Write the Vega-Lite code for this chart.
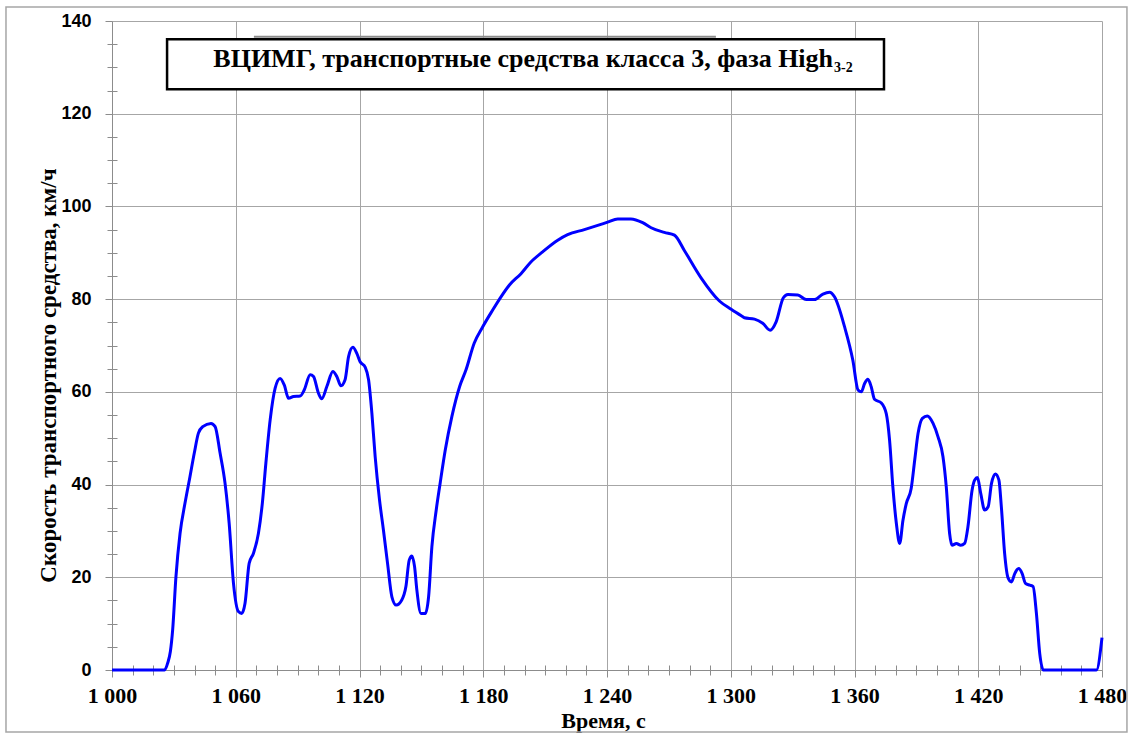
{
  "$schema": "https://vega.github.io/schema/vega-lite/v6.json",
  "width": 990,
  "height": 649,
  "autosize": {"type": "none"},
  "padding": {"left": 112, "top": 21, "right": 30, "bottom": 65},
  "background": "white",
  "config": {"view": {"stroke": null}},
  "data": {"values": [
    {"t":1000,"v":0},{"t":1025.5,"v":0},{"t":1027,"v":1.5},{"t":1028.3,"v":4},{"t":1029.4,"v":8.6},{"t":1031,"v":20.1},{"t":1033,"v":29.5},{"t":1035.4,"v":36},{"t":1037.8,"v":41.7},{"t":1039.9,"v":46.8},{"t":1041.9,"v":51.1},{"t":1044,"v":52.5},{"t":1048,"v":53.2},{"t":1050,"v":52.5},{"t":1052.4,"v":46.8},{"t":1054.8,"v":40.3},{"t":1056.8,"v":31.7},{"t":1058.9,"v":18.7},{"t":1061.3,"v":12.6},{"t":1062.9,"v":12.2},{"t":1064.5,"v":14.4},{"t":1066.5,"v":23},{"t":1068.6,"v":25.2},{"t":1071,"v":29.5},{"t":1072.9,"v":36},{"t":1074.6,"v":44.6},{"t":1076.7,"v":54},{"t":1079.1,"v":60.8},{"t":1081.5,"v":62.9},{"t":1083.5,"v":61.5},{"t":1085.6,"v":58.6},{"t":1088,"v":59},{"t":1091.2,"v":59.1},{"t":1093.2,"v":60.4},{"t":1096.1,"v":63.7},{"t":1097.7,"v":63.3},{"t":1100.1,"v":59.7},{"t":1101.7,"v":58.5},{"t":1104.2,"v":61.2},{"t":1107.1,"v":64.4},{"t":1109,"v":63.3},{"t":1111,"v":61.3},{"t":1113,"v":62.6},{"t":1114.7,"v":67.6},{"t":1116.8,"v":69.6},{"t":1118.7,"v":68.3},{"t":1120.3,"v":66.5},{"t":1122.8,"v":65.3},{"t":1124.4,"v":62.6},{"t":1126,"v":55.4},{"t":1127.6,"v":46},{"t":1129.7,"v":36.7},{"t":1131.6,"v":30.2},{"t":1133.6,"v":23},{"t":1135.7,"v":15.8},{"t":1137.8,"v":14},{"t":1140.5,"v":15.1},{"t":1142.5,"v":18},{"t":1144.1,"v":23.7},{"t":1145.4,"v":24.6},{"t":1146.7,"v":22.3},{"t":1147.8,"v":17.3},{"t":1149.8,"v":12.2},{"t":1151.9,"v":12.2},{"t":1153.5,"v":15.8},{"t":1155.1,"v":26.6},{"t":1157.2,"v":34.5},{"t":1159.1,"v":40.3},{"t":1161.6,"v":47.5},{"t":1164.8,"v":54.7},{"t":1168.6,"v":61.2},{"t":1171.6,"v":64.7},{"t":1175.6,"v":70.5},{"t":1179.7,"v":74},{"t":1184.5,"v":77.6},{"t":1188.6,"v":80.5},{"t":1192.6,"v":83},{"t":1198.3,"v":85.5},{"t":1203.1,"v":88},{"t":1208.8,"v":90.2},{"t":1216.1,"v":92.7},{"t":1220.9,"v":93.9},{"t":1229,"v":95},{"t":1235.5,"v":95.9},{"t":1240.3,"v":96.6},{"t":1245.2,"v":97.3},{"t":1251.6,"v":97.3},{"t":1257.3,"v":96.5},{"t":1261.4,"v":95.4},{"t":1267.8,"v":94.4},{"t":1272.7,"v":93.8},{"t":1277.5,"v":90.5},{"t":1285.6,"v":84.6},{"t":1294.5,"v":79.6},{"t":1300.2,"v":77.8},{"t":1305.5,"v":76.3},{"t":1306.6,"v":76},{"t":1311.5,"v":75.7},{"t":1315.5,"v":74.8},{"t":1319.1,"v":73.3},{"t":1322,"v":75.1},{"t":1325.5,"v":80.3},{"t":1327.7,"v":81},{"t":1332.5,"v":80.9},{"t":1336.6,"v":79.9},{"t":1340.6,"v":79.9},{"t":1344.7,"v":81.1},{"t":1347.9,"v":81.5},{"t":1350.3,"v":80.5},{"t":1355.2,"v":74},{"t":1359.2,"v":66.8},{"t":1361.7,"v":60.4},{"t":1363.3,"v":60},{"t":1364.9,"v":61.8},{"t":1366.5,"v":62.7},{"t":1368.1,"v":61.1},{"t":1369.7,"v":58.4},{"t":1373,"v":57.6},{"t":1375.4,"v":55.3},{"t":1377,"v":49.6},{"t":1378.6,"v":39.5},{"t":1380.3,"v":31.6},{"t":1381.9,"v":27.3},{"t":1383.5,"v":32.3},{"t":1385.1,"v":35.9},{"t":1387.5,"v":39.2},{"t":1389.2,"v":45.3},{"t":1390.8,"v":51},{"t":1392.9,"v":54.3},{"t":1395.3,"v":54.8},{"t":1398.1,"v":53.2},{"t":1400.5,"v":50.3},{"t":1402.9,"v":46},{"t":1404.5,"v":39.5},{"t":1406.1,"v":29.5},{"t":1407.3,"v":26.9},{"t":1409.4,"v":27.3},{"t":1411.5,"v":26.9},{"t":1413.4,"v":27.3},{"t":1415,"v":30.9},{"t":1417,"v":38.8},{"t":1418.3,"v":41},{"t":1419.6,"v":41.5},{"t":1421.2,"v":38.1},{"t":1423.1,"v":34.5},{"t":1424.8,"v":35.2},{"t":1426.4,"v":40.2},{"t":1428.3,"v":42.3},{"t":1430,"v":41},{"t":1431.2,"v":35.2},{"t":1432.8,"v":25.1},{"t":1434.5,"v":19.8},{"t":1436.1,"v":19},{"t":1437.7,"v":20.8},{"t":1439.6,"v":21.9},{"t":1441.3,"v":20.8},{"t":1442.9,"v":18.7},{"t":1445,"v":18.3},{"t":1446.6,"v":18},{"t":1448.2,"v":12.2},{"t":1449.8,"v":3.6},{"t":1451.5,"v":0},{"t":1477.3,"v":0},{"t":1480,"v":7}
  ]},
  "resolve": {"axis": {"x": "independent", "y": "independent"}},
  "layer": [
    {
      "data": {"values": [{}]},
      "mark": {"type": "rect", "filled": false, "color": "#a6a6a6", "strokeWidth": 1.5},
      "encoding": {
        "x": {"datum": 948.6, "type": "quantitative", "scale": {"domain": [1000, 1480], "nice": false, "zero": false}, "axis": {
          "orient": "bottom", "offset": -5, "values": [1010,1020,1030,1040,1050,1070,1080,1090,1100,1110,1130,1140,1150,1160,1170,1190,1200,1210,1220,1230,1250,1260,1270,1280,1290,1310,1320,1330,1340,1350,1370,1380,1390,1400,1410,1430,1440,1450,1460,1470],
          "labels": false, "domain": false, "grid": false, "ticks": true, "tickSize": 10, "tickColor": "#8c8c8c", "tickWidth": 1, "title": null}},
        "x2": {"datum": 1492.1},
        "y": {"datum": 143.0, "type": "quantitative", "scale": {"domain": [0, 140], "nice": false}, "axis": {
          "orient": "left", "offset": -5, "values": [5,10,15,25,30,35,45,50,55,65,70,75,85,90,95,105,110,115,125,130,135],
          "labels": false, "domain": false, "grid": false, "ticks": true, "tickSize": 10, "tickColor": "#8c8c8c", "tickWidth": 1, "title": null}},
        "y2": {"datum": -13.37}
      }
    },
    {
      "mark": {"type": "line", "color": "#0000ff", "strokeWidth": 3, "interpolate": "monotone"},
      "encoding": {
        "x": {"field": "t", "type": "quantitative", "scale": {"domain": [1000, 1480], "nice": false, "zero": false},
          "axis": {
            "orient": "bottom",
            "values": [1000,1060,1120,1180,1240,1300,1360,1420,1480],
            "labelExpr": "replace(format(datum.value, ','), ',', ' ')",
            "labelFont": "Liberation Serif", "labelFontWeight": "bold", "labelFontSize": 22, "labelColor": "black",
            "labelPadding": 8, "labelFlush": false, "labelOverlap": false,
            "tickSize": 7, "tickColor": "#8c8c8c", "tickWidth": 1,
            "domainColor": "#8c8c8c", "domainWidth": 1,
            "grid": true, "gridColor": "#a6a6a6", "gridWidth": 1,
            "title": "Время, с", "titleFont": "Liberation Serif", "titleFontWeight": "bold", "titleFontSize": 22, "titleColor": "black",
            "titleX": 491, "titleY": 57, "titleBaseline": "alphabetic", "titleAlign": "center"
          }},
        "y": {"field": "v", "type": "quantitative", "scale": {"domain": [0, 140], "nice": false},
          "axis": {
            "orient": "left",
            "values": [0,20,40,60,80,100,120,140],
            "labelFont": "Liberation Sans", "labelFontWeight": "bold", "labelFontSize": 18, "labelColor": "black",
            "labelPadding": 14, "labelFlush": false, "labelOverlap": false,
            "tickSize": 7, "tickColor": "#8c8c8c", "tickWidth": 1,
            "domainColor": "#8c8c8c", "domainWidth": 1,
            "grid": true, "gridColor": "#a6a6a6", "gridWidth": 1,
            "title": "Скорость транспортного средства, км/ч", "titleFont": "Liberation Serif", "titleFontWeight": "bold", "titleFontSize": 23, "titleColor": "black",
            "titleX": -57, "titleY": 354, "titleAngle": 270, "titleBaseline": "alphabetic", "titleAlign": "center"
          }}
      }
    },
    {
      "data": {"values": [{}]},
      "mark": {"type": "rule", "color": "#8c8c8c", "strokeWidth": 2},
      "encoding": {
        "x": {"datum": 1068.8, "type": "quantitative", "axis": null},
        "x2": {"datum": 1292.8},
        "y": {"datum": 136.6, "type": "quantitative", "axis": null}
      }
    },
    {
      "data": {"values": [{}]},
      "mark": {"type": "rect", "fill": "white", "stroke": "black", "strokeWidth": 2.5},
      "encoding": {
        "x": {"datum": 1026.7, "type": "quantitative", "axis": null},
        "x2": {"datum": 1374.3},
        "y": {"datum": 136.05, "type": "quantitative", "axis": null},
        "y2": {"datum": 125.27}
      }
    },
    {
      "data": {"values": [{}]},
      "mark": {"type": "text", "text": "ВЦИМГ, транспортные средства класса 3, фаза High", "font": "Liberation Serif", "fontWeight": "bold", "fontSize": 26, "align": "right", "baseline": "alphabetic", "color": "black"},
      "encoding": {
        "x": {"datum": 1349.6, "type": "quantitative", "axis": null},
        "y": {"datum": 130.14, "type": "quantitative", "axis": null}
      }
    },
    {
      "data": {"values": [{}]},
      "mark": {"type": "text", "text": "3-2", "font": "Liberation Serif", "fontWeight": "bold", "fontSize": 14, "align": "left", "baseline": "alphabetic", "color": "black", "dx": 1},
      "encoding": {
        "x": {"datum": 1349.6, "type": "quantitative", "axis": null},
        "y": {"datum": 129.07, "type": "quantitative", "axis": null}
      }
    }
  ]
}
